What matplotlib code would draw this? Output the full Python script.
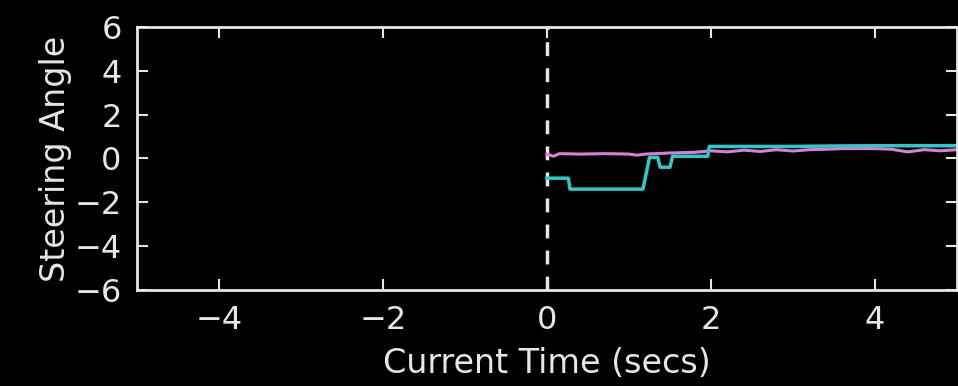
import matplotlib
matplotlib.use("Agg")
import matplotlib.pyplot as plt

# cyan trace (steering command)
cyan_t = [0.0, 0.26, 0.28, 1.17, 1.25, 1.35, 1.38, 1.50, 1.53, 1.96, 1.98, 2.5, 3.0, 3.5, 4.0, 4.5, 5.0]
cyan_v = [-0.9, -0.9, -1.4, -1.4, 0.05, 0.05, -0.4, -0.4, 0.1, 0.1, 0.55, 0.55, 0.55, 0.57, 0.58, 0.58, 0.58]

# magenta trace (measured steering)
mag_t = [0.0, 0.08, 0.15, 0.4, 0.7, 1.0, 1.1, 1.2, 1.5, 1.8, 2.0, 2.2, 2.4, 2.6, 2.8, 3.0,
         3.2, 3.4, 3.6, 3.8, 4.0, 4.2, 4.4, 4.6, 4.8, 5.0]
mag_v = [0.2, 0.1, 0.22, 0.2, 0.22, 0.2, 0.15, 0.2, 0.25, 0.28, 0.35, 0.3, 0.38, 0.32, 0.4, 0.34,
         0.4, 0.42, 0.45, 0.45, 0.45, 0.42, 0.3, 0.4, 0.35, 0.4]

fg = "#e6e6e6"
fig = plt.figure(figsize=(9.58, 3.86), dpi=100, facecolor="black")
ax = fig.add_axes([0.143, 0.249, 0.856, 0.681], facecolor="black")

ax.axvline(0, color=fg, lw=2.5, linestyle=(0, (4, 3.5)))
ax.plot(mag_t, mag_v, color="#d880d8", lw=2.2)
ax.plot(cyan_t, cyan_v, color="#2ec8c8", lw=2.5)

ax.set_xlim(-5, 5)
ax.set_ylim(-6, 6)
ax.set_xticks([-4, -2, 0, 2, 4])
ax.set_yticks([-6, -4, -2, 0, 2, 4, 6])
for s in ax.spines.values():
    s.set_color(fg)
    s.set_linewidth(2)
ax.tick_params(direction="in", top=True, right=True, length=8, width=1.5,
               colors=fg, labelsize=23, pad=11)
ax.set_xlabel("Current Time (secs)", color=fg, fontsize=24, labelpad=8)
ax.set_ylabel("Steering Angle", color=fg, fontsize=24, labelpad=2)

fig.savefig("out.png", dpi=100, facecolor="black")
